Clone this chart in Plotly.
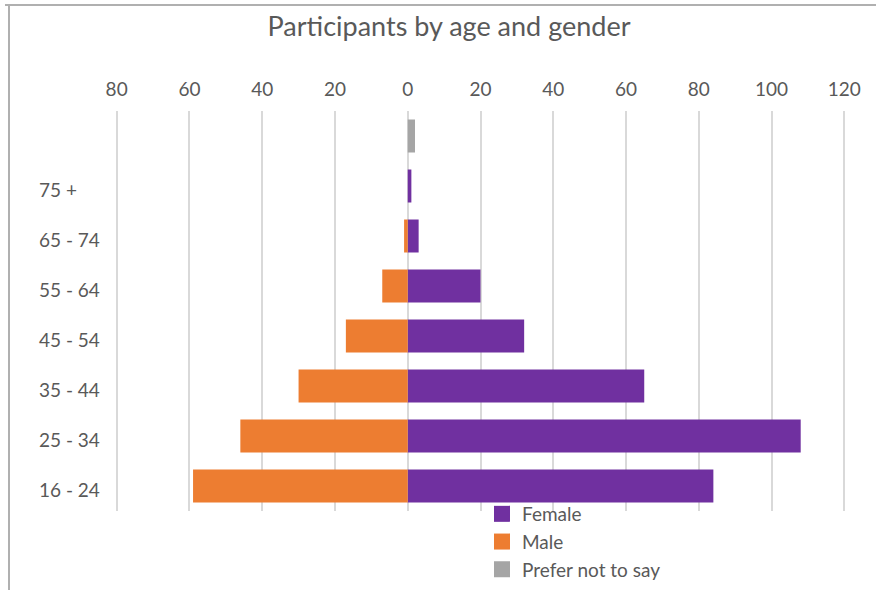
import plotly.graph_objects as go

age_groups = ["16 - 24", "25 - 34", "35 - 44", "45 - 54", "55 - 64", "65 - 74", "75 +"]
female = [84, 108, 65, 32, 20, 3, 1]
male = [59, 46, 30, 17, 7, 1, 0]
prefer_not_to_say = [2]
x_ticks = [-80, -60, -40, -20, 0, 20, 40, 60, 80, 100, 120]
x_tick_labels = ["80", "60", "40", "20", "0", "20", "40", "60", "80", "100", "120"]

FONT = "Lato"
TXT = "#595959"
C_F, C_M, C_P = "#7030A0", "#ED7D31", "#A5A5A5"
rows = list(range(len(age_groups)))
top_row = len(age_groups)

fig = go.Figure()
fig.add_trace(go.Bar(y=rows, x=female, orientation="h", name="Female", legendgroup="f",
                     showlegend=False, marker=dict(color=C_F, line=dict(width=0)), width=0.66))
fig.add_trace(go.Bar(y=rows, x=[-v for v in male], orientation="h", name="Male", legendgroup="m",
                     showlegend=False, customdata=male,
                     hovertemplate="%{customdata}<extra>Male</extra>",
                     marker=dict(color=C_M, line=dict(width=0)), width=0.66))
fig.add_trace(go.Bar(y=[top_row], x=prefer_not_to_say, orientation="h", name="Prefer not to say",
                     legendgroup="p", showlegend=False,
                     marker=dict(color=C_P, line=dict(width=0)), width=0.66))
# legend entries with larger square swatches
for name, col, grp in [("Female", C_F, "f"), ("Male", C_M, "m"), ("Prefer not to say", C_P, "p")]:
    fig.add_trace(go.Scatter(x=[None], y=[None], mode="markers", name=name, legendgroup=grp,
                             marker=dict(symbol="square", size=17, color=col), hoverinfo="skip"))

L, R, T, B = 113, 28, 111, 79
W, H = 876, 590
pw, ph = W - L - R, H - T - B

annotations = []
for i, lab in enumerate(age_groups):
    annotations.append(dict(text=lab, x=(37 - L) / pw, xref="paper", y=i, yref="y",
                            xanchor="left", yanchor="middle", showarrow=False, yshift=-3,
                            font=dict(family=FONT, size=19, color=TXT)))

shapes = [
    dict(type="line", xref="paper", yref="paper", x0=(5 - L) / pw, x1=(W - L) / pw,
         y0=(H - B - 5) / ph, y1=(H - B - 5) / ph, line=dict(color="#b0b0b0", width=2)),
    dict(type="line", xref="paper", yref="paper", x0=(9 - L) / pw, x1=(9 - L) / pw,
         y0=(H - B - 5) / ph, y1=-B / ph, line=dict(color="#b0b0b0", width=2)),
]

fig.update_layout(
    width=W, height=H, margin=dict(l=L, r=R, t=T, b=B, autoexpand=False),
    paper_bgcolor="white", plot_bgcolor="white",
    barmode="overlay",
    title=dict(text="Participants by age and gender", x=(449 - L) / pw, xref="paper",
               xanchor="center", y=1 - 27 / H, yanchor="middle",
               font=dict(family=FONT, size=27, color=TXT)),
    xaxis=dict(side="top", range=[-81, 121], tickvals=x_ticks, ticktext=x_tick_labels,
               showgrid=True, gridcolor="#d9d9d9", gridwidth=1.5,
               zeroline=True, zerolinecolor="#d9d9d9", zerolinewidth=1.5,
               showline=False, ticks="", ticklabelstandoff=10,
               tickfont=dict(family=FONT, size=19, color=TXT), fixedrange=True),
    yaxis=dict(range=[-0.5, 7.5], showticklabels=False, showgrid=False, zeroline=False,
               showline=False, ticks=""),
    legend=dict(x=(482 - L) / pw, y=(H - B - 495) / ph, xanchor="left", yanchor="top",
                font=dict(family=FONT, size=19, color=TXT), bgcolor="rgba(0,0,0,0)",
                tracegroupgap=0, traceorder="normal", itemsizing="trace"),
    annotations=annotations,
    shapes=shapes,
    showlegend=True,
)

fig.write_html("out.html")
